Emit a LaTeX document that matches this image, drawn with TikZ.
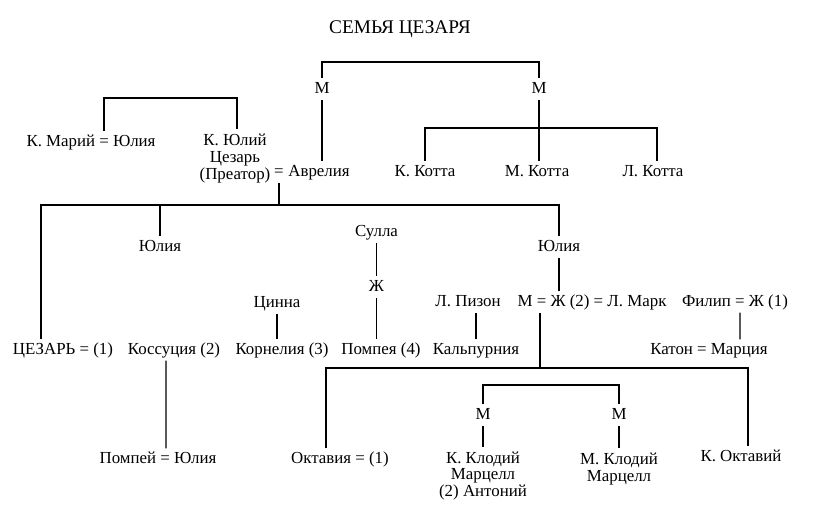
\documentclass[tikz,border=0pt]{standalone}
\usepackage{fontspec}
\setmainfont{Liberation Serif}
\lineskiplimit=-5pt
\begin{document}
\begin{tikzpicture}[
line width=0.7pt,
personnode/.style={inner xsep=1pt, inner ysep=2.5pt, text height=6pt, text depth=0.5pt, font=\fontsize{9.6}{8.6}\selectfont},
multinode/.style={inner xsep=1pt, inner ysep=2.5pt, align=center, font=\fontsize{9.6}{9.6}\selectfont},
titlenode/.style={font=\fontsize{11}{12}\selectfont},
]
\useasboundingbox (0,0) rectangle (16.54,-10.54);
%Nodes
\node[titlenode] (title) at (8.00,-0.58) {СЕМЬЯ ЦЕЗАРЯ};
\node[personnode] (m_top_l) at (6.44,-1.78) {М};
\node[personnode] (m_top_r) at (10.78,-1.78) {М};
\node[personnode] (marius) at (1.82,-2.84) {К. Марий = Юлия};
\node[multinode] (caesar_father) at (4.70,-3.17) {К. Юлий\\Цезарь\\(Преатор)};
\node[personnode] (eq_aurelia) at (5.58,-3.44) {=};
\node[personnode] (aurelia) at (6.38,-3.44) {Аврелия};
\node[personnode] (k_kotta) at (8.50,-3.44) {К. Котта};
\node[personnode] (m_kotta) at (10.74,-3.44) {М. Котта};
\node[personnode] (l_kotta) at (13.06,-3.44) {Л. Котта};
\node[personnode] (julia_a) at (3.20,-4.94) {Юлия};
\node[personnode] (sulla) at (7.53,-4.64) {Сулла};
\node[personnode] (julia_b) at (11.18,-4.94) {Юлия};
\node[personnode] (zh_sulla) at (7.53,-5.74) {Ж};
\node[personnode] (cinna) at (5.54,-6.06) {Цинна};
\node[personnode] (pison) at (9.36,-6.04) {Л. Пизон};
\node[personnode] (marcus) at (11.84,-6.04) {М = Ж (2) = Л. Марк};
\node[personnode] (philip) at (14.70,-6.04) {Филип = Ж (1)};
\node[personnode] (caesar) at (1.26,-7.00) {ЦЕЗАРЬ = (1)};
\node[personnode] (cossutia) at (3.48,-7.00) {Коссуция (2)};
\node[personnode] (cornelia) at (5.64,-7.00) {Корнелия (3)};
\node[personnode] (pompeia) at (7.62,-7.00) {Помпея (4)};
\node[personnode] (calpurnia) at (9.52,-7.00) {Кальпурния};
\node[personnode] (cato) at (14.18,-7.00) {Катон = Марция};
\node[personnode] (m_claud_l) at (9.66,-8.30) {М};
\node[personnode] (m_claud_r) at (12.38,-8.30) {М};
\node[personnode] (pompey) at (3.16,-9.18) {Помпей = Юлия};
\node[personnode] (octavia) at (6.80,-9.18) {Октавия = (1)};
\node[multinode] (k_claud) at (9.66,-9.52) {К. Клодий\\Марцелл\\(2) Антоний};
\node[multinode] (m_claud) at (12.38,-9.38) {М. Клодий\\Марцелл};
\node[personnode] (octavius) at (14.82,-9.14) {К. Октавий};

%Bars
\coordinate (top_bar) at (8.60,-1.24);
\coordinate (kotta_bar) at (10.78,-2.56);
\coordinate (jul_bar_l) at (2.08,-1.96);
\coordinate (jul_bar_r) at (4.74,-1.96);
\coordinate (child_bar_l) at (0.82,-4.10);
\coordinate (child_bar_r) at (11.18,-4.10);
\coordinate (octavia_bar_l) at (6.52,-7.36);
\coordinate (octavia_bar_r) at (14.96,-7.36);
\coordinate (claud_bar) at (11.02,-7.70);
\coordinate (marcus_drop) at ([xshift=-1.04cm]marcus.south);

%Lines
\draw (m_top_l.north) |- (top_bar) -| (m_top_r.north);
\draw (m_top_l.south) -- (m_top_l.south |- aurelia.north);
\draw (m_top_r.south) -- (m_top_r.south |- m_kotta.north);
\draw (k_kotta.north) |- (kotta_bar) -| ([xshift=0.08cm]l_kotta.north);
\draw (jul_bar_l |- marius.north) -- (jul_bar_l) -- (jul_bar_r) -- (jul_bar_r |- caesar_father.north);
\draw (eq_aurelia.south) -- (eq_aurelia.south |- child_bar_l);
\draw (child_bar_l |- caesar.north) -- (child_bar_l) -- (child_bar_r) -- (julia_b.north);
\draw (julia_a.north) -- (julia_a.north |- child_bar_l);
\draw (julia_b.south) -- (julia_b.south |- marcus.north);
\draw (sulla.south) -- (zh_sulla.north);
\draw (zh_sulla.south) -- (zh_sulla.south |- pompeia.north);
\draw (cinna.south) -- (cinna.south |- cornelia.north);
\draw (calpurnia.north) -- (calpurnia.north |- pison.south);
\draw ([xshift=0.1cm]philip.south) -- ([xshift=0.62cm]cato.north);
\draw ([xshift=-0.16cm]cossutia.south) -- ([xshift=0.16cm]pompey.north);
\draw (marcus_drop) -- (marcus_drop |- octavia_bar_l);
\draw (octavia_bar_l |- octavia.north) -- (octavia_bar_l) -- (octavia_bar_r) -- (octavia_bar_r |- octavius.north);
\draw (m_claud_l.north) |- (claud_bar) -| (m_claud_r.north);
\draw (m_claud_l.south) -- (k_claud.north);
\draw (m_claud_r.south) -- (m_claud.north);

\end{tikzpicture}
\end{document}
